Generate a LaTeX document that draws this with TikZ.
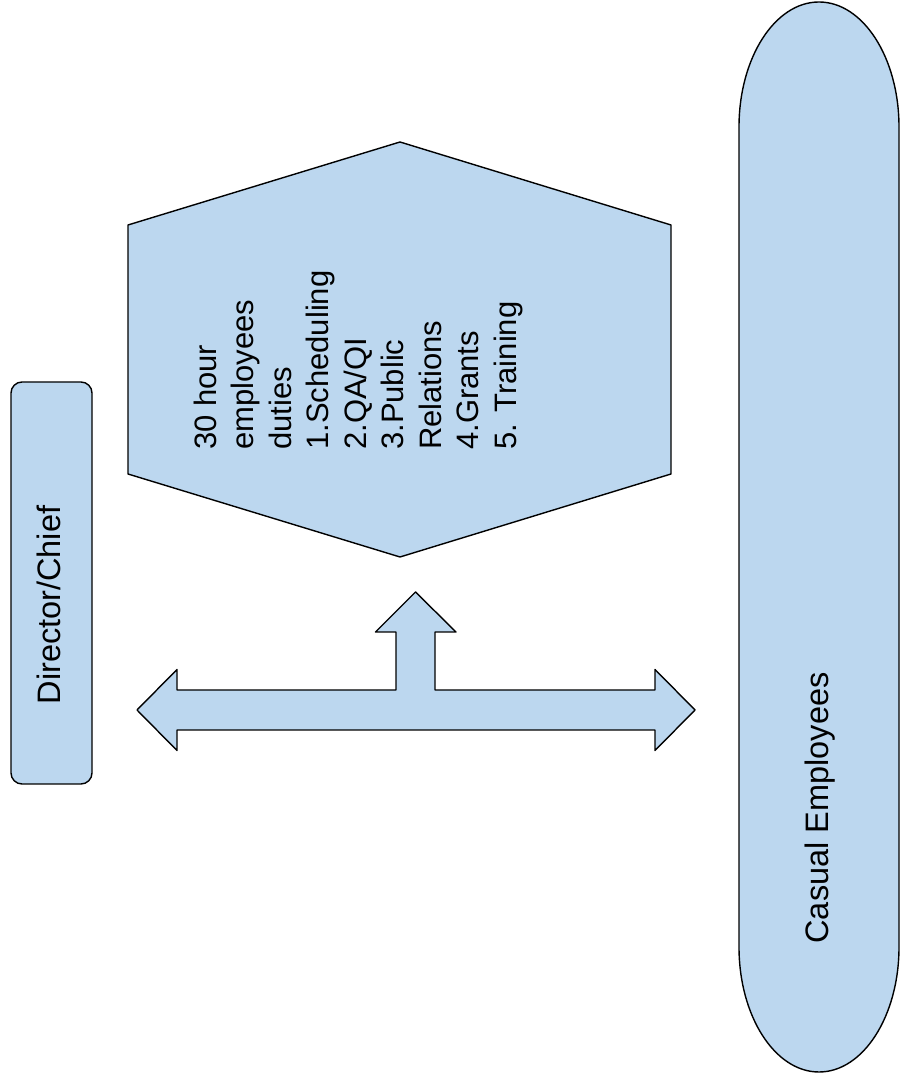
\documentclass[tikz,border=0pt]{standalone}
\usepackage{fontspec}
\setmainfont{Liberation Sans}
\usepackage{tikz}
\usepackage{xcolor}
\definecolor{paleblue}{RGB}{188,215,239}
\tikzset{
    shape-fill/.style = {draw=black, fill=paleblue, line width=1.4pt, line join=round},
    role-box/.style = {shape-fill, rectangle, rounded corners=11pt, inner sep=0pt},
    side-text/.style = {rotate=90, inner sep=0pt, font=\fontsize{32.5}{39}\selectfont},
    duty-text/.style = {rotate=90, inner sep=0pt, align=left, font=\fontsize{31}{37.5}\selectfont},
}

\begin{document}
\begin{tikzpicture}[x=1pt, y=1pt]
\useasboundingbox (0,0) rectangle (900,1084);
\node [role-box, minimum width=81pt, minimum height=402pt] (director) at (51.5,501) {};
\node [side-text] (director-label) at (49,479) {Director/Chief};

\draw [shape-fill] (400,942) -- (671,859) -- (671,610) -- (400,527) -- (128,610) -- (128,859) -- cycle;
\node [duty-text, anchor=west] (duties) at (358,634) {30 hour\\employees\\duties\\1.Scheduling\\2.QA/QI\\3.Public\\Relations\\4.Grants\\5. Training};

\draw [shape-fill] (739,957) -- (739,137) arc[start angle=180, end angle=360, x radius=80, y radius=125]
    -- (899,957) arc[start angle=0, end angle=180, x radius=80, y radius=125] -- cycle;
\node [side-text] (casual) at (820,276) {Casual Employees};

\coordinate (lt) at (137,374);
\coordinate (rt) at (695,374);
\coordinate (up) at (415.5,492);
\draw [shape-fill] (lt) -- ++(40,40.5) -- ++(0,-20.5) -- ++(219,0) -- ++(0,58) -- ++(-20.5,0) -- (up)
    -- ++(40.5,-40) -- ++(-21,0) -- ++(0,-58) -- ++(220,0) -- ++(0,20.5) -- (rt)
    -- ++(-40,-40.5) -- ++(0,20.5) -- ++(-478,0) -- ++(0,-20.5) -- cycle;
\end{tikzpicture}
\end{document}
